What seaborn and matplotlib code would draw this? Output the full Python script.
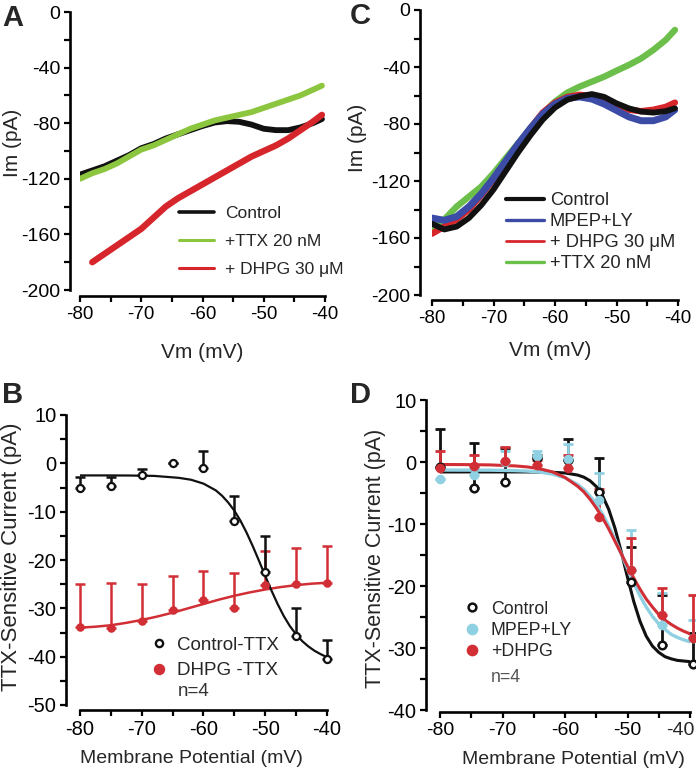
import matplotlib
matplotlib.use('Agg')
import matplotlib.pyplot as plt
from matplotlib.ticker import MultipleLocator
from matplotlib.lines import Line2D
import seaborn as sns

# ---------------- Panel A : ramp I-V (pA) ----------------
a_v = [-80, -78, -76, -74, -72, -70, -68, -66, -64, -62, -60, -58, -56, -54, -52, -50, -48, -46, -44, -42, -40.5]
a_control = [-117, -114, -111, -107, -103, -98, -95, -91, -88, -85, -82, -79.5, -78.5, -79, -81, -84, -85, -85, -83, -80, -77]
a_ttx = [-120, -116, -113, -109, -104, -99, -96, -92, -88, -84, -81, -78, -76, -74, -72, -69, -66, -63, -60, -56, -53]
a_dhpg_v = [-78, -76, -74, -72, -70, -68, -66, -64, -62, -60, -58, -56, -54, -52, -50, -48, -46, -44, -42, -40.5]
a_dhpg = [-180, -174, -168, -162, -156, -148, -140, -134, -129, -124, -119, -114, -109, -104, -100, -96, -91, -85, -79, -74]

# ---------------- Panel C : ramp I-V (pA) ----------------
c_v = [-80, -78, -76, -74, -72, -70, -68, -66, -64, -62, -60, -58, -56, -54, -52, -50, -48, -46, -44, -42, -40.5]
c_control = [-150, -154, -152, -146, -137, -126, -113, -100, -88, -77, -68.5, -63, -60.5, -59, -61, -65.5, -69, -71.3, -72, -71, -69]
c_mpep = [-146, -147.6, -145, -138, -129, -118, -106, -94, -83, -73, -66, -62, -61, -62.5, -66, -70.5, -75, -77.7, -77.7, -75, -70]
c_dhpg = [-157, -152, -147, -140, -130, -119, -107, -95, -83, -72, -65, -61, -59.5, -60.5, -63, -67, -70, -71, -70, -68, -65]
c_ttx = [-154, -147, -138, -131, -124, -114.6, -104, -93.6, -83, -72.5, -64.3, -58, -53.8, -50.3, -46.8, -42.6, -38.6, -34, -28, -21, -14]

# ---------------- Panel B : TTX-sensitive current ----------------
b_v = [-80, -75, -70, -65, -60, -55, -50, -45, -40]
b_ctrl = [-5.2, -4.6, -2.4, 0, -1.0, -11.9, -22.4, -35.7, -40.5]
b_ctrl_top = [-2.9, -2.9, -1.2, 0, 2.6, -6.7, -15.0, -29.9, -36.6]
b_dhpg = [-33.8, -34.1, -32.6, -30.3, -28.3, -29.9, -25.2, -25.0, -24.8]
b_dhpg_top = [-25.0, -24.8, -25.0, -23.3, -22.2, -22.6, -18.1, -17.6, -17.0]
b_fit_v = [-80, -76, -72, -68, -64, -62, -60, -58, -57, -56, -55, -54, -53, -52, -51,
           -50, -49, -48, -47, -46, -45, -44, -43, -42, -41, -40]
b_fit_ctrl = [-2.5, -2.5, -2.52, -2.6, -3.0, -3.4, -4.2, -5.6, -6.7, -8.1, -9.8, -11.9, -14.4, -17.2, -20.2,
              -23.3, -26.3, -29.1, -31.6, -33.7, -35.4, -36.8, -37.9, -38.8, -39.5, -40.1]
b_fit2_v = [-80, -77.5, -75, -72.5, -70, -67.5, -65, -62.5, -60, -57.5, -55, -52.5, -50, -47.5, -45, -42.5, -40]
b_fit_dhpg = [-34.0, -33.8, -33.5, -33.0, -32.4, -31.7, -30.9, -30.0, -29.1, -28.2, -27.4, -26.7, -26.1,
              -25.6, -25.2, -24.9, -24.7]

# ---------------- Panel D : TTX-sensitive current ----------------
d_v = [-80, -74.6, -69.6, -64.5, -59.6, -54.5, -49.5, -44.5, -39.6]
d_ctrl = [-0.8, -4.2, -3.2, 0.6, 0.3, -4.8, -19.3, -29.5, -32.5]
d_ctrl_top = [5.3, 3.1, 2.2, 1.2, 3.7, 0.6, -13.7, -21.5, -27.6]
d_mpep = [-2.7, -2.1, 0.0, 0.9, 0.5, -6.1, -17.4, -26.3, -28.4]
d_mpep_top = [-2.7, -1.0, 1.7, 1.7, 2.9, -1.7, -11.0, -21.2, -25.5]
d_dhpg = [-0.9, -0.6, 0.2, -0.5, -1.0, -8.9, -17.4, -24.7, -28.4]
d_dhpg_top = [1.8, 1.2, 2.5, 0.3, 1.2, -4.4, -12.3, -20.4, -21.5]
d_fit_v = [-80, -76, -72, -68, -66, -64, -62, -60, -58, -57, -56, -55, -54, -53, -52, -51,
           -50, -49, -48, -47, -46, -45, -44, -43, -42, -41, -40, -39.5]
d_fit_ctrl = [-1.6, -1.6, -1.6, -1.6, -1.6, -1.62, -1.66, -1.77, -2.1, -2.44, -3.02, -3.95, -5.44, -7.65, -10.7, -14.5,
              -18.6, -22.5, -25.7, -28.1, -29.7, -30.7, -31.4, -31.75, -32.0, -32.1, -32.2, -32.2]
d_fit_mpep = [-1.3, -1.31, -1.32, -1.39, -1.47, -1.63, -1.96, -2.53, -3.6, -4.4, -5.5, -6.8, -8.4, -10.3, -12.5, -14.8,
              -17.2, -19.5, -21.6, -23.4, -24.9, -26.1, -27.0, -27.8, -28.3, -28.7, -29.0, -29.1]
d_fit_dhpg = [-0.4, -0.42, -0.47, -0.63, -0.8, -1.1, -1.6, -2.5, -3.9, -4.8, -6.0, -7.4, -9.0, -10.8, -12.8, -14.8,
              -16.8, -18.7, -20.5, -22.1, -23.4, -24.6, -25.5, -26.2, -26.8, -27.3, -27.7, -27.8]
d_xticks = [-80, -70, -60, -50, -40]

BLACK = '#111111'
GREEN_A = '#8cc63f'
RED_A = '#d7262b'
GREEN_C = '#6cbf4a'
BLUE_C = '#3b4ba6'
RED_B = '#d12f35'
LBLUE = '#8fd0e2'

sns.set_style('ticks')
plt.rcParams['font.family'] = ['Liberation Sans', 'DejaVu Sans']
plt.rcParams['axes.unicode_minus'] = False

fig = plt.figure(figsize=(6.96, 7.75), dpi=100)
W, H = 696.0, 775.0


def make_ax(x0, x1, ytop, ybot):
    return fig.add_axes([x0 / W, 1 - ybot / H, (x1 - x0) / W, (ybot - ytop) / H])


def style(ax, ylim, ymaj, ymin, off_l, off_b, xsize, ysize):
    ax.set_xlim(-80, -40)
    ax.set_ylim(*ylim)
    ax.xaxis.set_major_locator(MultipleLocator(10))
    ax.xaxis.set_minor_locator(MultipleLocator(5))
    ax.yaxis.set_major_locator(MultipleLocator(ymaj))
    ax.yaxis.set_minor_locator(MultipleLocator(ymin))
    sns.despine(ax=ax, offset={'left': off_l, 'bottom': off_b})
    for s in ['left', 'bottom']:
        ax.spines[s].set_linewidth(1.9)
        ax.spines[s].set_color('black')
    ax.tick_params(which='both', direction='out', width=1.6, length=4, color='black')
    ax.tick_params(axis='x', which='major', labelsize=xsize, pad=3, labelcolor='black')
    ax.tick_params(axis='y', which='major', labelsize=ysize, pad=3, labelcolor='black')


# ---------------- A ----------------
axA = make_ax(80, 325, 12, 290)
sns.lineplot(x=a_v, y=a_control, ax=axA, color=BLACK, lw=4.2, sort=False)
sns.lineplot(x=a_v, y=a_ttx, ax=axA, color=GREEN_A, lw=4.2, sort=False)
sns.lineplot(x=a_dhpg_v, y=a_dhpg, ax=axA, color=RED_A, lw=4.6, sort=False)
style(axA, (-200, 0), 40, 20, 7.2, 4.3, 13.5, 14)
axA.set_xlabel('Vm (mV)', fontsize=15)
axA.set_ylabel('Im (pA)', fontsize=15)
axA.xaxis.set_label_coords(0.5, -0.19)
axA.yaxis.set_label_coords(-0.237, 0.53)
hA = [Line2D([], [], color=BLACK, lw=2.6), Line2D([], [], color=GREEN_A, lw=2.2),
      Line2D([], [], color=RED_A, lw=2.2)]
axA.legend(hA, ['Control', '+TTX 20 nM', '+ DHPG 30 \u03bcM'], loc='upper left',
           bbox_to_anchor=(0.405, 0.302), frameon=False, fontsize=12.5, handlelength=2.0,
           handletextpad=0.65, labelspacing=0.73, borderpad=0, borderaxespad=0)

# ---------------- C ----------------
axC = make_ax(432, 678, 10, 295)
sns.lineplot(x=c_v, y=c_ttx, ax=axC, color=GREEN_C, lw=4.6, sort=False)
sns.lineplot(x=c_v, y=c_dhpg, ax=axC, color=RED_A, lw=4.6, sort=False)
sns.lineplot(x=c_v, y=c_mpep, ax=axC, color=BLUE_C, lw=5.0, sort=False)
sns.lineplot(x=c_v, y=c_control, ax=axC, color=BLACK, lw=4.2, sort=False)
style(axC, (-200, 0), 40, 20, 8.6, 3.6, 13.5, 14)
axC.set_xlabel('Vm (mV)', fontsize=15)
axC.set_ylabel('Im (pA)', fontsize=15)
axC.xaxis.set_label_coords(0.48, -0.16)
axC.yaxis.set_label_coords(-0.264, 0.55)
hC = [Line2D([], [], color=BLACK, lw=3), Line2D([], [], color=BLUE_C, lw=2.4),
      Line2D([], [], color=RED_A, lw=2.0), Line2D([], [], color=GREEN_C, lw=2.4)]
axC.legend(hC, ['Control', 'MPEP+LY', '+ DHPG 30 \u03bcM', '+TTX 20 nM'], loc='upper left',
           bbox_to_anchor=(0.3, 0.361), frameon=False, fontsize=13.2, handlelength=2.1,
           handletextpad=0.3, labelspacing=0.22, borderpad=0, borderaxespad=0)

# ---------------- B ----------------
axB = make_ax(80, 327, 415, 705)
axB.errorbar(b_v, b_dhpg, yerr=[[0] * 9, [t - y for t, y in zip(b_dhpg_top, b_dhpg)]], fmt='none',
             ecolor=RED_B, elinewidth=1.8, capsize=3.5, capthick=1.8, clip_on=False, zorder=2)
axB.errorbar(b_v, b_ctrl, yerr=[[0] * 9, [t - y for t, y in zip(b_ctrl_top, b_ctrl)]], fmt='none',
             ecolor=BLACK, elinewidth=1.8, capsize=3.5, capthick=1.8, clip_on=False, zorder=2)
sns.lineplot(x=b_fit2_v, y=b_fit_dhpg, ax=axB, color=RED_B, lw=1.8, sort=False, zorder=3)
sns.lineplot(x=b_fit_v, y=b_fit_ctrl, ax=axB, color=BLACK, lw=1.6, sort=False, zorder=3)
sns.scatterplot(x=b_v, y=b_dhpg, ax=axB, color=RED_B, s=38, edgecolor=RED_B, linewidth=0,
                clip_on=False, zorder=4)
sns.scatterplot(x=b_v, y=b_ctrl, ax=axB, facecolor='white', s=26, edgecolor=BLACK, linewidth=1.6,
                clip_on=False, zorder=5)
style(axB, (-50, 10), 10, 5, 10, 3.6, 14.5, 14.5)
axB.set_xlabel('Membrane Potential (mV)', fontsize=14)
axB.set_ylabel('TTX-Sensitive Current (pA)', fontsize=16)
axB.xaxis.set_label_coords(0.452, -0.155)
axB.yaxis.set_label_coords(-0.235, 0.51)
hB = [Line2D([], [], ls='', marker='o', ms=5.2, mfc='white', mec=BLACK, mew=1.7),
      Line2D([], [], ls='', marker='o', ms=7.2, mfc=RED_B, mec=RED_B)]
axB.legend(hB, ['Control-TTX', 'DHPG -TTX'], loc='upper left', bbox_to_anchor=(0.282, 0.236),
           frameon=False, fontsize=13.5, handlelength=1.0, handletextpad=0.45, labelspacing=0.45,
           borderpad=0, borderaxespad=0)
axB.text(0.397, 0.045, 'n=4', transform=axB.transAxes, fontsize=13.5, color='#333333', va='center')

# ---------------- D ----------------
axD = make_ax(440, 690, 400, 710)
for yv, top, col in [(d_ctrl, d_ctrl_top, BLACK), (d_mpep, d_mpep_top, LBLUE), (d_dhpg, d_dhpg_top, RED_B)]:
    axD.errorbar(d_v, yv, yerr=[[0] * 9, [t - y for t, y in zip(top, yv)]], fmt='none', ecolor=col,
                 elinewidth=2.0, capsize=3.5, capthick=2.0, clip_on=False, zorder=2)
sns.lineplot(x=d_fit_v, y=d_fit_ctrl, ax=axD, color=BLACK, lw=2.2, sort=False, zorder=3)
sns.lineplot(x=d_fit_v, y=d_fit_mpep, ax=axD, color=LBLUE, lw=2.4, sort=False, zorder=3)
sns.lineplot(x=d_fit_v, y=d_fit_dhpg, ax=axD, color=RED_B, lw=2.2, sort=False, zorder=3)
sns.scatterplot(x=d_v, y=d_ctrl, ax=axD, facecolor='white', s=30, edgecolor=BLACK, linewidth=1.8,
                clip_on=False, zorder=4)
sns.scatterplot(x=d_v, y=d_mpep, ax=axD, color=LBLUE, s=48, linewidth=0, clip_on=False, zorder=5)
sns.scatterplot(x=d_v, y=d_dhpg, ax=axD, color=RED_B, s=48, linewidth=0, clip_on=False, zorder=6)
style(axD, (-40, 10), 10, 5, 10, 1.4, 14, 14.5)
# the last x tick label sits a little left of its tick (it would run off the edge)
axD.set_xticks(d_xticks, labels=[str(t) for t in d_xticks[:-1]] + [''])
axD.annotate(str(d_xticks[-1]), xy=(d_xticks[-1], 0), xycoords=axD.get_xaxis_transform(),
             xytext=(-7, -8.4), textcoords='offset points', ha='center', va='top', fontsize=14)
axD.set_xlabel('Membrane Potential (mV)', fontsize=14)
axD.set_ylabel('TTX-Sensitive Current (pA)', fontsize=15.5)
axD.xaxis.set_label_coords(0.534, -0.132)
axD.yaxis.set_label_coords(-0.215, 0.49)
hD = [Line2D([], [], ls='', marker='o', ms=5.6, mfc='white', mec=BLACK, mew=1.8),
      Line2D([], [], ls='', marker='o', ms=7.4, mfc=LBLUE, mec=LBLUE),
      Line2D([], [], ls='', marker='o', ms=7.4, mfc=RED_B, mec=RED_B)]
axD.legend(hD, ['Control', 'MPEP+LY', '+DHPG'], loc='upper left', bbox_to_anchor=(0.092, 0.353),
           frameon=False, fontsize=12.8, handlelength=1.0, handletextpad=0.57, labelspacing=0.24,
           borderpad=0, borderaxespad=0)
axD.text(0.204, 0.106, 'n=4', transform=axD.transAxes, fontsize=12.8, color='#555555', va='center')

# panel letters
for lab, x, y in [('A', 2, 4), ('C', 350, 2), ('B', 2, 381), ('D', 350, 381)]:
    fig.text(x / W, 1 - y / H, lab, fontsize=21, fontweight='bold', va='top', ha='left')

fig.savefig('out.png', dpi=100)
